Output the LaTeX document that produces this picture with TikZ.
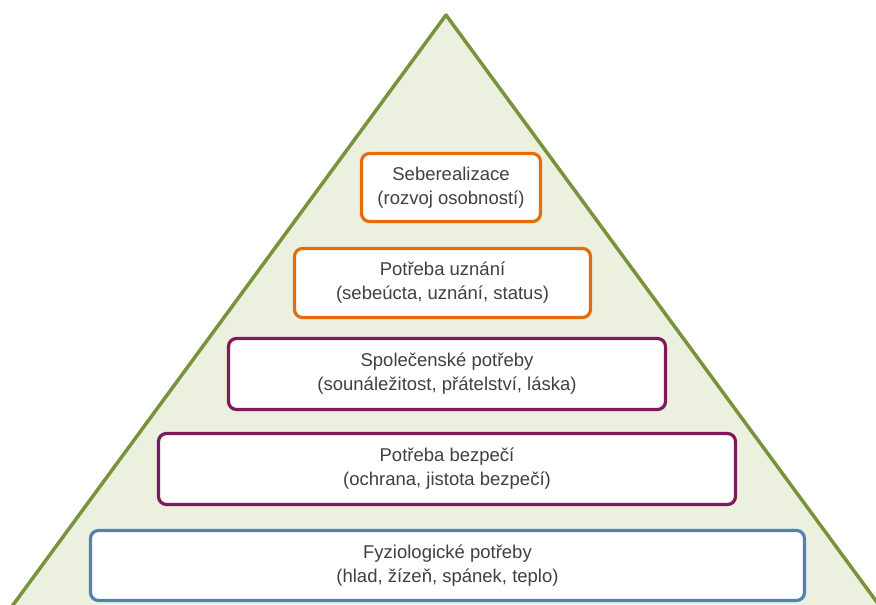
\documentclass[tikz,border=0pt]{standalone}
\usepackage{fontspec}
\setmainfont{Liberation Sans}
\usepackage{xcolor}
\usetikzlibrary{positioning}

\definecolor{pyrgreen}{RGB}{119,147,60}
\definecolor{pyrfill}{RGB}{235,241,222}
\definecolor{lvorange}{RGB}{228,108,10}
\definecolor{lvpurple}{RGB}{128,24,92}
\definecolor{lvblue}{RGB}{79,129,189}
\definecolor{txtgray}{RGB}{64,64,64}

\begin{document}
\begin{tikzpicture}[
    x=1pt, y=-1pt,
    font=\fontsize{18.5}{24}\selectfont,
    level/.style={rectangle, fill=white, line width=3.2pt, rounded corners=8pt, text=txtgray, align=center, inner sep=0pt},
    pyramid/.style={draw=pyrgreen, fill=pyrfill, line width=3.5pt, line join=round}
]
    \useasboundingbox (0,0) rectangle (876,605);
    \clip (0,0) rectangle (876,605);

    % Pyramid
    \coordinate (apex) at (446,15);
    \coordinate (baseL) at (2,620);
    \coordinate (baseR) at (890,620);
    \draw[pyramid] (apex) -- (baseL) -- (baseR) -- cycle;

    % Levels
    \node[level, draw=lvorange, minimum width=179pt, minimum height=68pt] (selfreal) at (451,187.5) {Seberealizace\\(rozvoj osobností)};
    \node[level, draw=lvorange, minimum width=296pt, minimum height=69pt] (esteem) at (442.5,283) {Potřeba uznání\\(sebeúcta, uznání, status)};
    \node[level, draw=lvpurple, minimum width=437pt, minimum height=71pt] (social) at (447,374) {Společenské potřeby\\(sounáležitost, přátelství, láska)};
    \node[level, draw=lvpurple, minimum width=577pt, minimum height=71pt] (safety) at (447,469) {Potřeba bezpečí\\(ochrana, jistota bezpečí)};
    \node[level, draw=lvblue, minimum width=714pt, minimum height=70pt] (physio) at (447.5,565.5) {Fyziologické potřeby\\(hlad, žízeň, spánek, teplo)};
\end{tikzpicture}
\end{document}
